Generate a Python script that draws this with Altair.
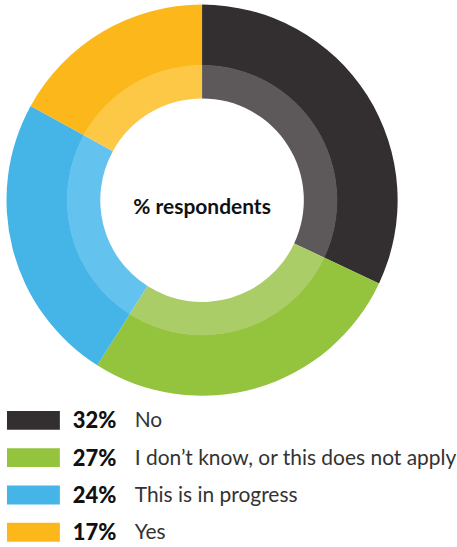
import altair as alt
import pandas as pd

categories = ["No", "I don\u2019t know, or this does not apply", "This is in progress", "Yes"]
values = [32, 27, 24, 17]
pct_labels = ["32%", "27%", "24%", "17%"]
outer_colors = ["#332f30", "#94c33e", "#45b4e6", "#fcb81b"]
inner_colors = ["#5d5859", "#abcd68", "#64c3ee", "#fdc845"]
center_label = "% respondents"

df = pd.DataFrame({
    "category": categories,
    "value": values,
    "pct": pct_labels,
    "order": list(range(len(categories))),
})

color_outer = alt.Color("category:N", scale=alt.Scale(domain=categories, range=outer_colors), legend=None)
color_inner = alt.Color("category:N", scale=alt.Scale(domain=categories, range=inner_colors), legend=None)

base = alt.Chart(df).encode(
    theta=alt.Theta("value:Q", stack=True),
    order=alt.Order("order:Q"),
)

outer = base.mark_arc(radius=196, radius2=135).encode(color=color_outer)
inner = base.mark_arc(radius=135.5, radius2=102).encode(color=color_inner)
center = alt.Chart(pd.DataFrame({"t": [center_label]})).mark_text(
    font="Lato", fontWeight="bold", fontSize=21, color="#111111", dy=8
).encode(text="t:N")

donut = alt.layer(outer, inner, center).resolve_scale(color="independent").properties(width=405, height=400)

ybase = alt.Chart(df).encode(
    y=alt.Y("category:N", sort=categories, axis=None,
            scale=alt.Scale(paddingInner=0, paddingOuter=0)),
)
swatch = ybase.mark_bar(height=19).encode(
    x=alt.value(7), x2=alt.value(60),
    color=color_outer,
)
pct = ybase.mark_text(align="left", baseline="middle", font="Lato", fontWeight=900,
                      fontSize=22, color="#111111", dy=1).encode(
    x=alt.value(73), text="pct:N")
lab = ybase.mark_text(align="left", baseline="middle", font="Lato", fontSize=21,
                      color="#333333", dy=1).encode(
    x=alt.value(135), text="category:N")

legend = alt.layer(swatch, pct, lab).properties(width=450, height=alt.Step(37.35))

chart = alt.vconcat(donut, legend, spacing=2).properties(padding=0).configure_view(
    stroke=None
).configure_concat(spacing=2)

chart.save("out.html", embed_options={"renderer": "svg", "actions": False})
